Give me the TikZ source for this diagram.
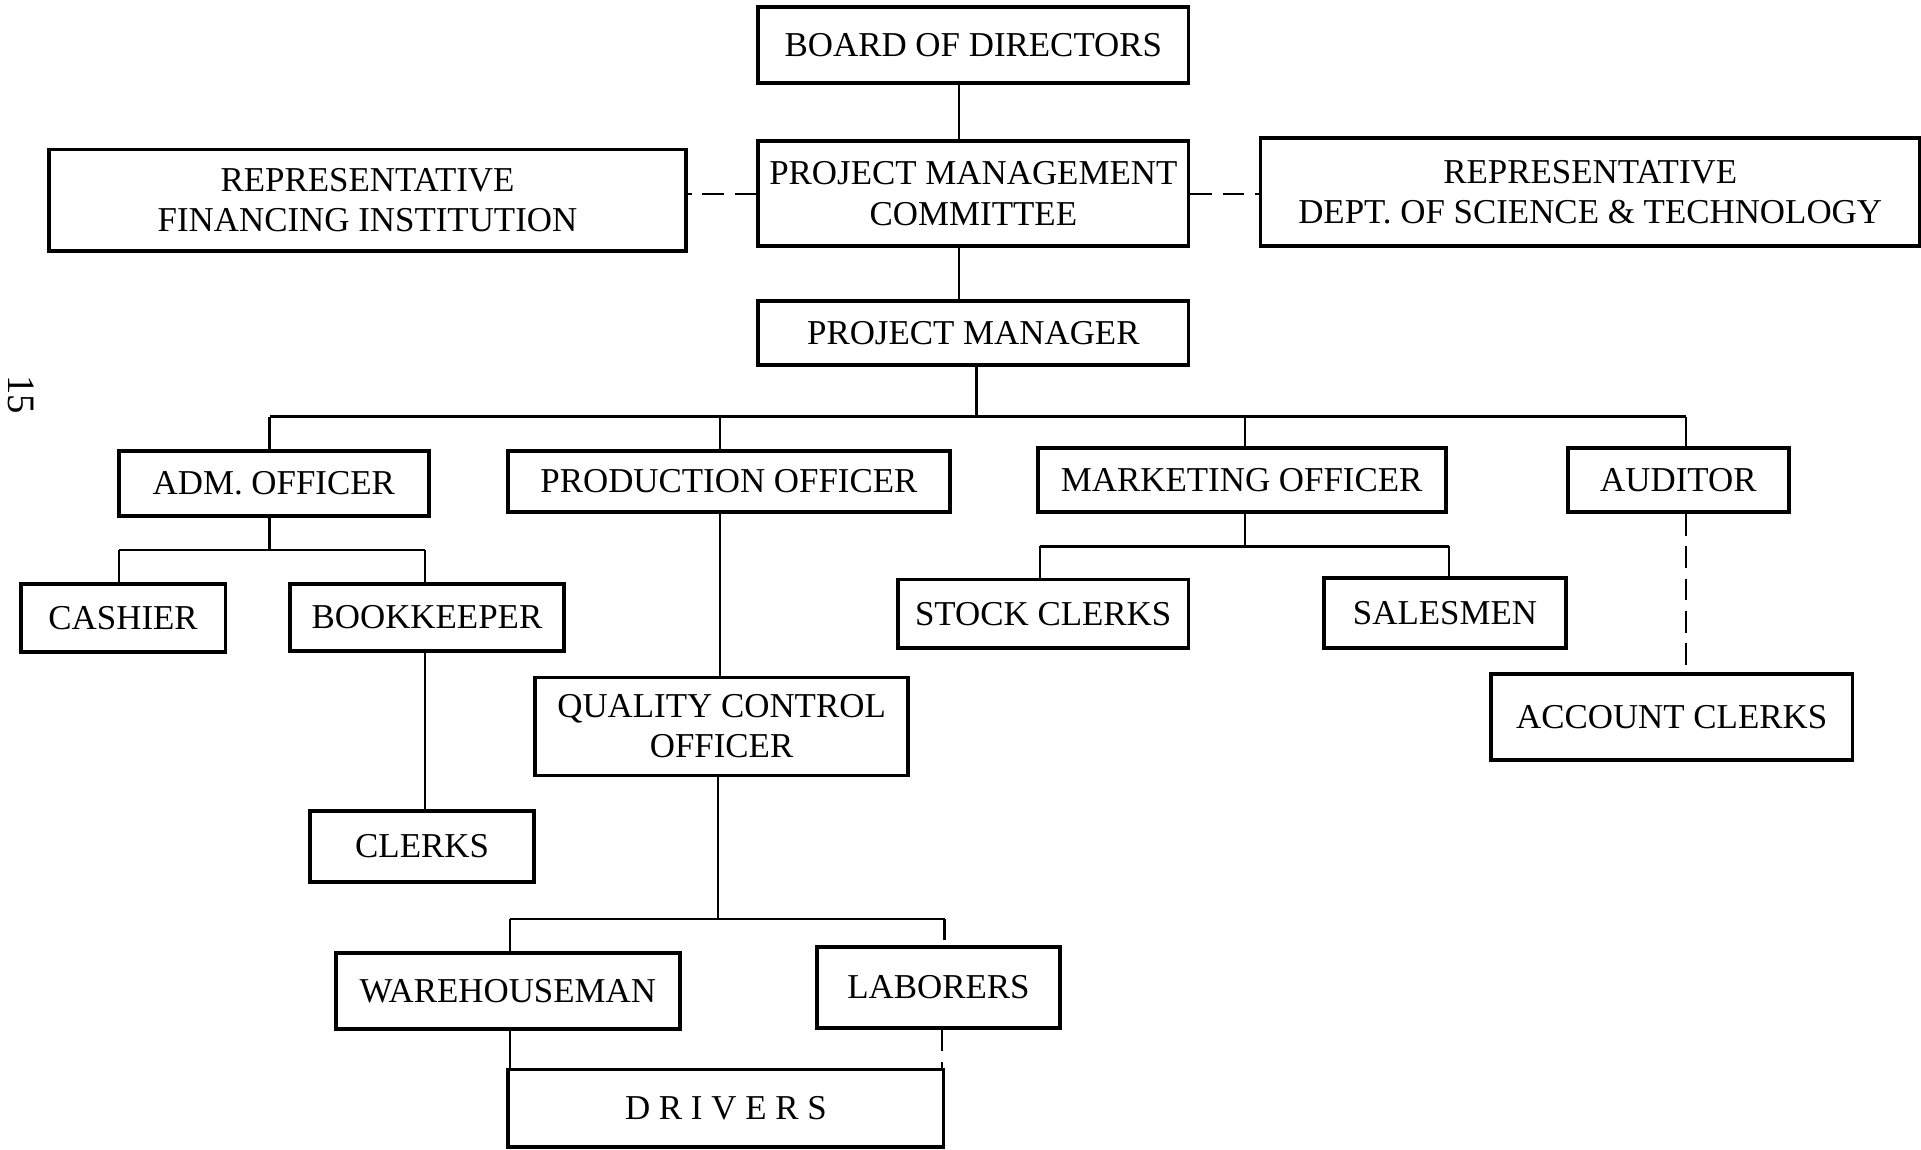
\documentclass[tikz,border=0pt]{standalone}
\usepackage{fontspec}
\setmainfont{Liberation Serif}
\newcommand\boxfont{\fontsize{8.1}{9.3}\selectfont}
\begin{document}
\begin{tikzpicture}[x=0.01cm,y=-0.01cm,
  box/.style={draw, line width=0.9pt, inner sep=0pt, align=center, font=\boxfont},
  conn/.style={line width=0.5pt},
  dconn/.style={conn, dash pattern=on 5pt off 2.5pt}]
\useasboundingbox (0,0) rectangle (1568,938);

% nodes
\node[box, minimum width=3.51cm, minimum height=0.62cm] (board) at (794.5,37) {BOARD OF DIRECTORS};
\node[box, minimum width=3.51cm, minimum height=0.86cm] (pmc) at (794.5,158) {PROJECT MANAGEMENT\\COMMITTEE};
\node[box, minimum width=5.20cm, minimum height=0.83cm] (repL) at (300,163.5) {REPRESENTATIVE\\FINANCING INSTITUTION};
\node[box, minimum width=5.38cm, minimum height=0.88cm] (repR) at (1298,157) {REPRESENTATIVE\\DEPT. OF SCIENCE \& TECHNOLOGY};
\node[box, minimum width=3.51cm, minimum height=0.52cm] (pm) at (794.5,272) {PROJECT MANAGER};

\node[box, minimum width=2.53cm, minimum height=0.53cm] (adm) at (223.5,394.5) {ADM. OFFICER};
\node[box, minimum width=3.60cm, minimum height=0.50cm] (prod) at (595,393) {PRODUCTION OFFICER};
\node[box, minimum width=3.33cm, minimum height=0.52cm] (mkt) at (1013.5,392) {MARKETING OFFICER};
\node[box, minimum width=1.80cm, minimum height=0.52cm] (aud) at (1370,392) {AUDITOR};

\node[box, minimum width=1.67cm, minimum height=0.55cm] (cash) at (100.5,504.5) {CASHIER};
\node[box, minimum width=2.23cm, minimum height=0.54cm] (book) at (348.5,504) {BOOKKEEPER};
\node[box, minimum width=2.37cm, minimum height=0.56cm] (stock) at (851.5,501) {STOCK CLERKS};
\node[box, minimum width=1.97cm, minimum height=0.57cm] (sales) at (1179.5,500.5) {SALESMEN};

\node[box, minimum width=3.04cm, minimum height=0.80cm] (qc) at (589,593) {QUALITY CONTROL\\OFFICER};
\node[box, minimum width=2.95cm, minimum height=0.70cm] (acct) at (1364.5,585) {ACCOUNT CLERKS};
\node[box, minimum width=1.83cm, minimum height=0.58cm] (clerks) at (344.5,691) {CLERKS};

\node[box, minimum width=2.81cm, minimum height=0.62cm] (wh) at (414.5,809) {WAREHOUSEMAN};
\node[box, minimum width=1.98cm, minimum height=0.66cm] (lab) at (766,806) {LABORERS};
\node[box, minimum width=3.55cm, minimum height=0.63cm] (drv) at (592.5,904.5) {D R I V E R S};

\node[rotate=-90, font=\fontsize{9}{10}\selectfont, inner sep=0pt] (pagenum) at (17,322) {15};

% junction coordinates
\coordinate (xTop) at (783,0);
\coordinate (jPM) at (797,340);
\coordinate (dAdm) at (220,340);
\coordinate (dProd) at (588,340);
\coordinate (dMkt) at (1016,340);
\coordinate (dAud) at (1376,340);
\coordinate (jAdm) at (220,449);
\coordinate (dCash) at (97,449);
\coordinate (dBook) at (347,449);
\coordinate (jMkt) at (1016,446);
\coordinate (dStock) at (849,446);
\coordinate (dSales) at (1183,446);
\coordinate (jQC) at (586,750);
\coordinate (dWh) at (416,750);
\coordinate (dLab) at (771,750);
\coordinate (xDrvR) at (769,0);

% connectors
\draw[conn] (board.south -| xTop) -- (pmc.north -| xTop);
\draw[conn] (pmc.south -| xTop) -- (pm.north -| xTop);
\draw[dconn] (pmc.west) -- (pmc.west -| repL.east);
\draw[dconn] (pmc.east) -- (pmc.east -| repR.west);

\draw[conn] (pm.south -| jPM) -- (jPM);
\draw[conn] (dAdm) -- (dAud);
\draw[conn] (dAdm) -- (dAdm |- adm.north);
\draw[conn] (dProd) -- (dProd |- prod.north);
\draw[conn] (dMkt) -- (dMkt |- mkt.north);
\draw[conn] (dAud) -- (dAud |- aud.north);

\draw[conn] (adm.south -| jAdm) -- (jAdm);
\draw[conn] (dCash) -- (dBook);
\draw[conn] (dCash) -- (dCash |- cash.north);
\draw[conn] (dBook) -- (dBook |- book.north);
\draw[conn] (book.south -| dBook) -- (clerks.north -| dBook);

\draw[conn] (prod.south -| dProd) -- (qc.north -| dProd);
\draw[conn] (qc.south -| jQC) -- (jQC);
\draw[conn] (dWh) -- (dLab);
\draw[conn] (dWh) -- (dWh |- wh.north);
\draw[dconn] (dLab) -- (dLab |- lab.north);
\draw[conn] (wh.south -| dWh) -- (drv.north -| dWh);
\draw[dconn] (lab.south -| xDrvR) -- (drv.north -| xDrvR);

\draw[conn] (mkt.south -| jMkt) -- (jMkt);
\draw[conn] (dStock) -- (dSales);
\draw[conn] (dStock) -- (dStock |- stock.north);
\draw[conn] (dSales) -- (dSales |- sales.north);
\draw[dconn] (aud.south -| dAud) -- (acct.north -| dAud);
\end{tikzpicture}
\end{document}
